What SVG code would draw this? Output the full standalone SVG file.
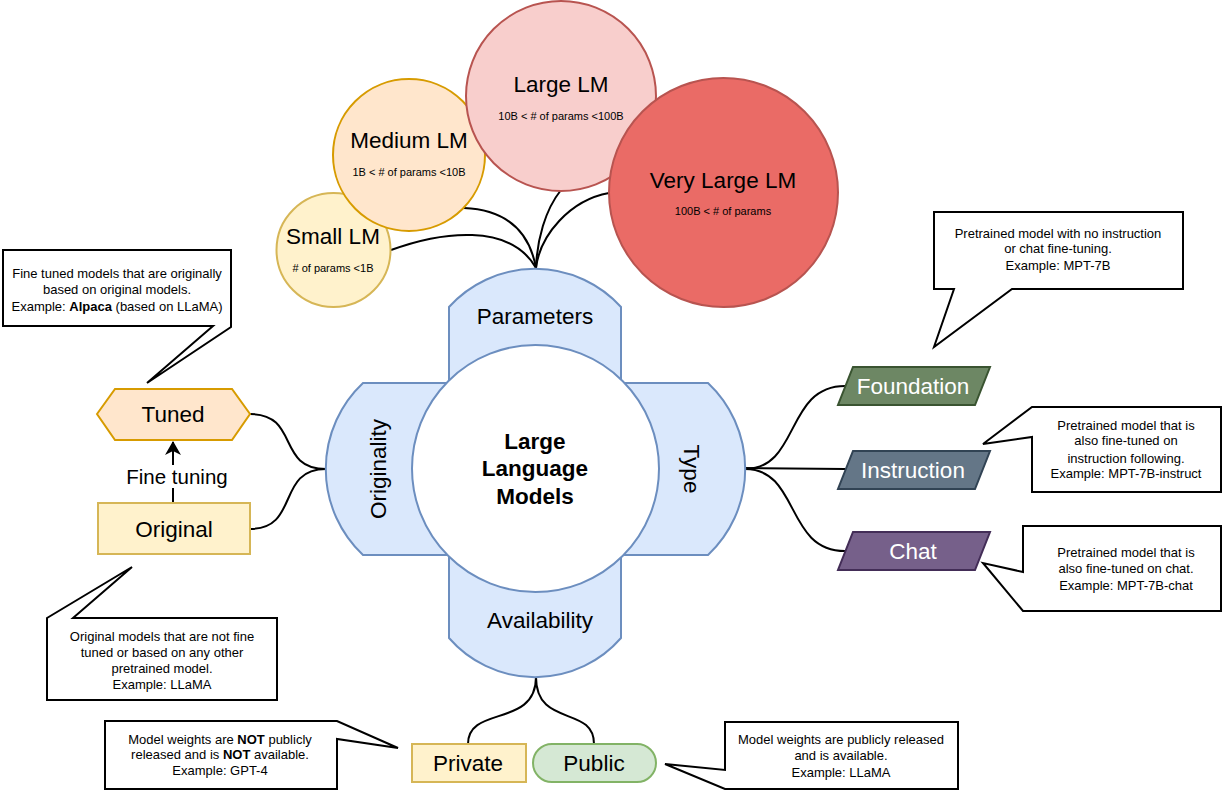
<svg xmlns="http://www.w3.org/2000/svg" width="1224" height="800" viewBox="0 0 1224 800">
<defs>
<style>
text{font-family:"Liberation Sans",Arial,Helvetica,sans-serif;fill:#000;text-anchor:middle}
.big{font-size:22.5px}
.sub{font-size:11px}
.note{font-size:13px}
.bold{font-weight:bold}
.wt{fill:#fff}
.edge{fill:none;stroke:#000;stroke-width:2}
.callout{fill:#fff;stroke:#000;stroke-width:2}
</style>
<marker id="arr" viewBox="0 0 14 16" refX="13" refY="8" markerWidth="14" markerHeight="16" markerUnits="userSpaceOnUse" orient="auto">
<path d="M0,0 L14,8 L0,16 L4,8 Z" fill="#000"/>
</marker>
</defs>
<rect width="1224" height="800" fill="#fff"/>

<g id="connectors">
<path class="edge" d="M391,250 C440,232 510,222 536,268"/>
<path class="edge" d="M464,208 C510,210 530,235 536,268"/>
<path class="edge" d="M561,190 C545,210 537,240 536,268"/>
<path class="edge" d="M609,193 C570,200 540,235 536,268"/>
<path class="edge" d="M250,414 C300,414 276,469 326,469"/>
<path class="edge" d="M250,529 C300,529 276,469 326,469"/>
<path class="edge" d="M745,469 C800,469 785,386 845,386"/>
<path class="edge" d="M745,468 L845,469"/>
<path class="edge" d="M745,469 C800,469 785,551 845,551"/>
<path class="edge" d="M536,677 C536,728 468,705 468,744"/>
<path class="edge" d="M536,677 C536,728 594,705 594,744"/>
<path class="edge" d="M173,503 L173,442" marker-end="url(#arr)"/>
</g>

<g id="center">
<path d="M449,383 V307 A116,116 0 0 1 621,307 V383 H708 A118,118 0 0 1 708,555 H621 V638 A114,114 0 0 1 449,638 V555 H363 A118,118 0 0 1 363,383 Z" fill="#dae8fc" stroke="#6c8ebf" stroke-width="2"/>
<circle cx="535.5" cy="468.5" r="123.5" fill="#fff" stroke="#6c8ebf" stroke-width="2"/>
<text class="big bold" x="535" y="449">Large</text>
<text class="big bold" x="535" y="476">Language</text>
<text class="big bold" x="535" y="504">Models</text>
</g>
<g id="parameters"><text class="big" x="535" y="324">Parameters</text></g>
<g id="availability"><text class="big" x="540" y="628">Availability</text></g>
<g id="originality"><text class="big" transform="translate(378,469) rotate(-90)" y="8">Originality</text></g>
<g id="type"><text class="big" transform="translate(692,469) rotate(90)" y="8">Type</text></g>

<g id="small-lm">
<circle cx="333.5" cy="250" r="57" fill="#fff2cc" stroke="#d6b656" stroke-width="2"/>
<text class="big" x="333" y="244">Small LM</text>
<text class="sub" x="333" y="272">&#35; of params &lt;1B</text>
</g>
<g id="medium-lm">
<circle cx="409" cy="155" r="76" fill="#ffe6cc" stroke="#d79b00" stroke-width="2"/>
<text class="big" x="409" y="148">Medium LM</text>
<text class="sub" x="409" y="176">1B &lt; &#35; of params &lt;10B</text>
</g>
<g id="large-lm">
<circle cx="561" cy="96" r="95" fill="#f8cecc" stroke="#b85450" stroke-width="2"/>
<text class="big" x="561" y="92">Large LM</text>
<text class="sub" x="561" y="120">10B &lt; &#35; of params &lt;100B</text>
</g>
<g id="very-large-lm">
<circle cx="723.5" cy="192.5" r="114.5" fill="#ea6b66" stroke="#b85450" stroke-width="2"/>
<text class="big" x="723" y="188">Very Large LM</text>
<text class="sub" x="723" y="215">100B &lt; &#35; of params</text>
</g>

<g id="tuned">
<polygon points="97,414 115,389 232,389 250,414 232,440 115,440" fill="#ffe6cc" stroke="#d79b00" stroke-width="2"/>
<text class="big" x="173" y="422">Tuned</text>
</g>
<g id="original">
<rect x="98" y="503" width="152" height="51" fill="#fff2cc" stroke="#d6b656" stroke-width="2"/>
<text class="big" x="174" y="537">Original</text>
</g>
<g id="fine-tuning-label">
<rect x="124" y="465" width="108" height="23" fill="#fff"/>
<text x="177" y="484" style="font-size:20.5px">Fine tuning</text>
</g>

<g id="foundation">
<polygon points="853,367 990,367 975,405 838,405" fill="#6d8764" stroke="#3a5431" stroke-width="2"/>
<text class="big wt" x="913" y="394">Foundation</text>
</g>
<g id="instruction">
<polygon points="853,451 990,451 975,489 838,489" fill="#647687" stroke="#314354" stroke-width="2"/>
<text class="big wt" x="913" y="478">Instruction</text>
</g>
<g id="chat">
<polygon points="853,532 990,532 975,570 838,570" fill="#76608a" stroke="#432d57" stroke-width="2"/>
<text class="big wt" x="913" y="559">Chat</text>
</g>

<g id="private">
<rect x="412" y="744" width="114" height="38" fill="#fff2cc" stroke="#d6b656" stroke-width="2"/>
<text class="big" x="468" y="771">Private</text>
</g>
<g id="public">
<rect x="533" y="744" width="123" height="38" rx="19" fill="#d5e8d4" stroke="#82b366" stroke-width="2"/>
<text class="big" x="594" y="771">Public</text>
</g>

<g id="note-tuned">
<path class="callout" d="M3,250 H231 V327 L147,383 L213,326 H3 Z"/>
<text class="note" x="117" y="278">Fine tuned models that are originally</text>
<text class="note" x="117" y="294">based on original models.</text>
<text class="note" x="117" y="311">Example: <tspan class="bold">Alpaca</tspan> (based on LLaMA)</text>
</g>
<g id="note-original">
<path class="callout" d="M47,618 L132,567 L73,618 H277 V700 H47 Z"/>
<text class="note" x="162" y="641">Original models that are not fine</text>
<text class="note" x="162" y="657">tuned or based on any other</text>
<text class="note" x="162" y="673">pretrained model.</text>
<text class="note" x="162" y="689">Example: LLaMA</text>
</g>
<g id="note-foundation">
<path class="callout" d="M934,212 H1183 V289 H1012 L934,347 L954,289 H934 Z"/>
<text class="note" x="1058" y="238">Pretrained model with no instruction</text>
<text class="note" x="1058" y="253">or chat fine-tuning.</text>
<text class="note" x="1058" y="270">Example: MPT-7B</text>
</g>
<g id="note-instruction">
<path class="callout" d="M1032,407 H1221 V492 H1032 V437 L983,444 Z"/>
<text class="note" x="1126" y="430">Pretrained model that is</text>
<text class="note" x="1126" y="445">also fine-tuned on</text>
<text class="note" x="1126" y="463">instruction following.</text>
<text class="note" x="1126" y="478">Example: MPT-7B-instruct</text>
</g>
<g id="note-chat">
<path class="callout" d="M1023,526 H1221 V611 H1023 L983,563 L1023,572 Z"/>
<text class="note" x="1126" y="557">Pretrained model that is</text>
<text class="note" x="1126" y="573">also fine-tuned on chat.</text>
<text class="note" x="1126" y="590">Example: MPT-7B-chat</text>
</g>
<g id="note-private">
<path class="callout" d="M105,721 H337 L398,748 L337,739 V789 H105 Z"/>
<text class="note" x="220" y="744">Model weights are <tspan class="bold">NOT</tspan> publicly</text>
<text class="note" x="220" y="759">released and is <tspan class="bold">NOT</tspan> available.</text>
<text class="note" x="220" y="775">Example: GPT-4</text>
</g>
<g id="note-public">
<path class="callout" d="M725,722 H958 V789 H725 L665,764 L725,770 Z"/>
<text class="note" x="841" y="744">Model weights are publicly released</text>
<text class="note" x="841" y="760">and is available.</text>
<text class="note" x="841" y="777">Example: LLaMA</text>
</g>
</svg>
